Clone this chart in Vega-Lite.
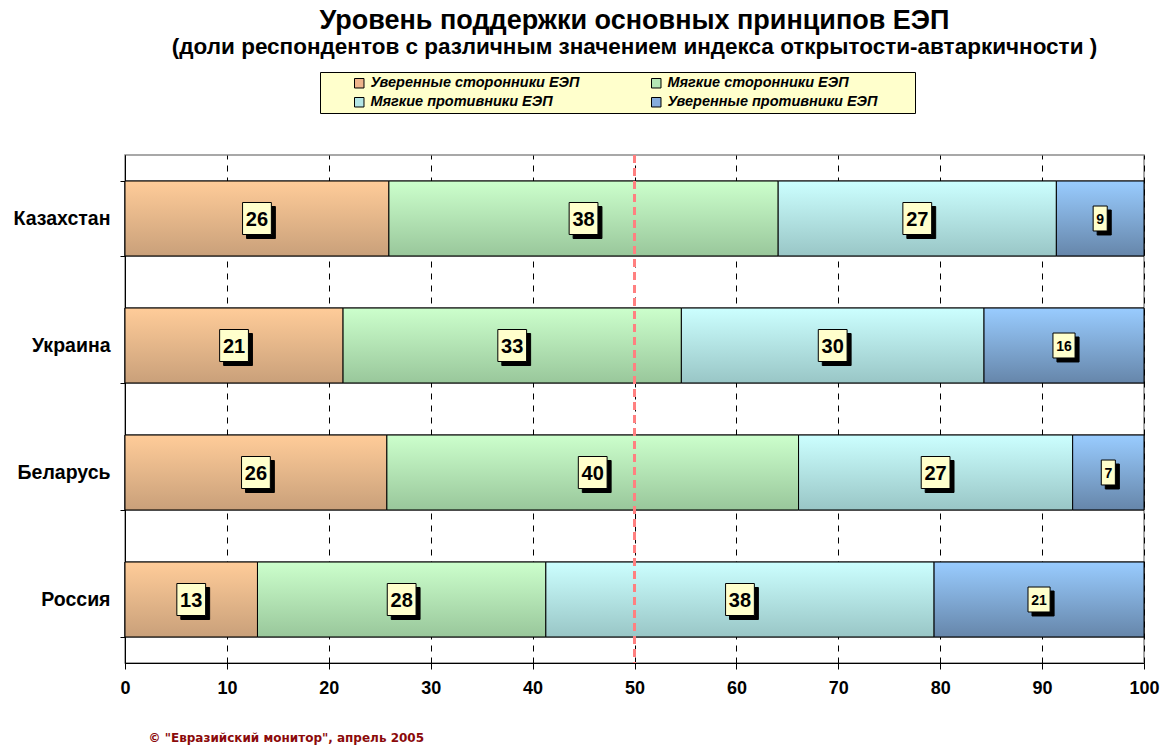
{
  "$schema": "https://vega.github.io/schema/vega-lite/v6.json",
  "width": 1019,
  "height": 508,
  "autosize": {"type": "none"},
  "padding": {"left": 125, "top": 155, "right": 25, "bottom": 82},
  "background": "white",
  "config": {
    "view": {"stroke": "#8c8c8c", "strokeWidth": 1.5},
    "font": "Liberation Sans"
  },
  "title": {
    "text": "Уровень поддержки основных принципов ЕЭП",
    "subtitle": "(доли респондентов с различным значением индекса открытости-автаркичности )",
    "font": "Liberation Sans",
    "fontSize": 27,
    "fontWeight": "bold",
    "color": "black",
    "subtitleFont": "Liberation Sans",
    "subtitleFontSize": 22.5,
    "subtitleFontWeight": "bold",
    "subtitleColor": "black",
    "subtitlePadding": 1,
    "anchor": "middle",
    "frame": "group",
    "offset": 12
  },
  "data": {
    "values": [
      {"country": "Казахстан", "cat": "Уверенные сторонники ЕЭП", "ord": 1, "value": 25.9},
      {"country": "Казахстан", "cat": "Мягкие сторонники ЕЭП", "ord": 2, "value": 38.2},
      {"country": "Казахстан", "cat": "Мягкие противники ЕЭП", "ord": 3, "value": 27.3},
      {"country": "Казахстан", "cat": "Уверенные противники ЕЭП", "ord": 4, "value": 8.6},
      {"country": "Украина", "cat": "Уверенные сторонники ЕЭП", "ord": 1, "value": 21.4},
      {"country": "Украина", "cat": "Мягкие сторонники ЕЭП", "ord": 2, "value": 33.2},
      {"country": "Украина", "cat": "Мягкие противники ЕЭП", "ord": 3, "value": 29.7},
      {"country": "Украина", "cat": "Уверенные противники ЕЭП", "ord": 4, "value": 15.7},
      {"country": "Беларусь", "cat": "Уверенные сторонники ЕЭП", "ord": 1, "value": 25.7},
      {"country": "Беларусь", "cat": "Мягкие сторонники ЕЭП", "ord": 2, "value": 40.4},
      {"country": "Беларусь", "cat": "Мягкие противники ЕЭП", "ord": 3, "value": 26.9},
      {"country": "Беларусь", "cat": "Уверенные противники ЕЭП", "ord": 4, "value": 7.0},
      {"country": "Россия", "cat": "Уверенные сторонники ЕЭП", "ord": 1, "value": 13.0},
      {"country": "Россия", "cat": "Мягкие сторонники ЕЭП", "ord": 2, "value": 28.3},
      {"country": "Россия", "cat": "Мягкие противники ЕЭП", "ord": 3, "value": 38.1},
      {"country": "Россия", "cat": "Уверенные противники ЕЭП", "ord": 4, "value": 20.6}
    ]
  },
  "transform": [
    {"stack": "value", "groupby": ["country"], "sort": [{"field": "ord", "order": "ascending"}], "as": ["x0", "x1"]},
    {"calculate": "(datum.x0 + datum.x1) / 2", "as": "mid"}
  ],
  "layer": [
    {
      "mark": {"type": "bar", "stroke": "black", "strokeWidth": 1},
      "encoding": {
        "y": {
          "field": "country", "type": "nominal", "sort": null,
          "scale": {"paddingInner": 0.41, "paddingOuter": 0.205},
          "axis": {
            "title": null, "grid": false, "domainColor": "black", "domainWidth": 1,
            "tickColor": "black", "tickSize": 5, "tickBand": "extent",
            "labelFont": "Liberation Sans", "labelFontSize": 19.5, "labelFontWeight": "bold",
            "labelColor": "black", "labelPadding": 10
          }
        },
        "x": {
          "field": "x0", "type": "quantitative",
          "scale": {"domain": [0, 100], "nice": false},
          "axis": {
            "values": [0, 10, 20, 30, 40, 50, 60, 70, 80, 90, 100],
            "grid": true, "gridColor": "black", "gridDash": [6, 6], "gridWidth": 1,
            "domainColor": "black", "domainWidth": 1,
            "tickColor": "black", "tickSize": 6,
            "labelFont": "Liberation Sans", "labelFontSize": 18, "labelFontWeight": "bold",
            "labelColor": "black", "labelPadding": 10, "labelFlush": false,
            "title": "© \"Евразийский монитор\", апрель 2005",
            "titleFont": "DejaVu Sans", "titleFontSize": 12, "titleFontWeight": "bold",
            "titleColor": "#8b0a0a", "titleX": 23, "titleY": 74,
            "titleAlign": "left", "titleBaseline": "middle", "titleAnchor": "start"
          }
        },
        "x2": {"field": "x1"},
        "color": {
          "field": "cat", "type": "nominal",
          "scale": {
            "domain": ["Уверенные сторонники ЕЭП", "Мягкие сторонники ЕЭП", "Мягкие противники ЕЭП", "Уверенные противники ЕЭП"],
            "range": ["#eeb48c", "#b4e6b4", "#b4e6e6", "#86acdc"]
          },
          "legend": {
            "orient": "none", "legendX": 195, "legendY": -83,
            "title": "\u00a0", "titleOrient": "left", "titleFontSize": 4, "titlePadding": 28,
            "columns": 2, "direction": "horizontal",
            "fillColor": "#ffffcc", "strokeColor": "black", "padding": 4,
            "columnPadding": 36, "rowPadding": 4,
            "symbolType": "square", "symbolSize": 90, "symbolStrokeColor": "black", "symbolStrokeWidth": 1,
            "labelFont": "Liberation Sans", "labelFontSize": 14.5, "labelFontStyle": "italic",
            "labelFontWeight": "bold", "labelColor": "black", "labelLimit": 400,
            "labelExpr": "datum.label + '\u2800\u2800\u2800'"
          }
        }
      }
    },
    {
      "mark": {"type": "bar", "stroke": "black", "strokeWidth": 1},
      "encoding": {
        "y": {"field": "country", "type": "nominal", "sort": null},
        "x": {"field": "x0", "type": "quantitative"},
        "x2": {"field": "x1"},
        "fill": {
          "condition": [
            {"test": "datum.cat === 'Уверенные сторонники ЕЭП'", "value": {"gradient": "linear", "x1": 0, "y1": 0, "x2": 0, "y2": 1, "stops": [{"offset": 0, "color": "#ffcc99"}, {"offset": 1, "color": "#c9a07a"}]}},
            {"test": "datum.cat === 'Мягкие сторонники ЕЭП'", "value": {"gradient": "linear", "x1": 0, "y1": 0, "x2": 0, "y2": 1, "stops": [{"offset": 0, "color": "#ccffcc"}, {"offset": 1, "color": "#99c79b"}]}},
            {"test": "datum.cat === 'Мягкие противники ЕЭП'", "value": {"gradient": "linear", "x1": 0, "y1": 0, "x2": 0, "y2": 1, "stops": [{"offset": 0, "color": "#ccffff"}, {"offset": 1, "color": "#99c6c6"}]}}
          ],
          "value": {"gradient": "linear", "x1": 0, "y1": 0, "x2": 0, "y2": 1, "stops": [{"offset": 0, "color": "#99ccff"}, {"offset": 1, "color": "#6686aa"}]}
        }
      }
    },
    {
      "mark": {"type": "rule", "color": "#ff8080", "strokeWidth": 2, "strokeDash": [8, 5]},
      "encoding": {"x": {"datum": 50, "type": "quantitative"}}
    },
    {
      "mark": {"type": "point", "filled": true, "fill": "black", "stroke": "black", "strokeWidth": 1, "opacity": 1, "size": 1024, "xOffset": 4, "yOffset": 4},
      "encoding": {
        "y": {"field": "country", "type": "nominal", "sort": null},
        "x": {"field": "mid", "type": "quantitative"},
        "shape": {
          "condition": [
            {"test": "datum.cat === 'Уверенные противники ЕЭП' && datum.value < 9.5", "value": "M-0.44,-0.78H0.44V0.78H-0.44Z"},
            {"test": "datum.cat === 'Уверенные противники ЕЭП'", "value": "M-0.69,-0.78H0.69V0.78H-0.69Z"}
          ],
          "value": "M-0.9,-1H0.9V1H-0.9Z"
        }
      }
    },
    {
      "mark": {"type": "point", "filled": true, "fill": "#ffffcc", "stroke": "black", "strokeWidth": 1, "opacity": 1, "size": 1024},
      "encoding": {
        "y": {"field": "country", "type": "nominal", "sort": null},
        "x": {"field": "mid", "type": "quantitative"},
        "shape": {
          "condition": [
            {"test": "datum.cat === 'Уверенные противники ЕЭП' && datum.value < 9.5", "value": "M-0.44,-0.78H0.44V0.78H-0.44Z"},
            {"test": "datum.cat === 'Уверенные противники ЕЭП'", "value": "M-0.69,-0.78H0.69V0.78H-0.69Z"}
          ],
          "value": "M-0.9,-1H0.9V1H-0.9Z"
        }
      }
    },
    {
      "mark": {"type": "text", "font": "Liberation Sans", "fontWeight": "bold", "color": "black", "align": "center", "baseline": "middle", "dy": 1},
      "encoding": {
        "y": {"field": "country", "type": "nominal", "sort": null},
        "x": {"field": "mid", "type": "quantitative"},
        "text": {"field": "value", "type": "quantitative", "format": ".0f"},
        "size": {
          "condition": {"test": "datum.cat === 'Уверенные противники ЕЭП'", "value": 14},
          "value": 20
        }
      }
    }
  ]
}
